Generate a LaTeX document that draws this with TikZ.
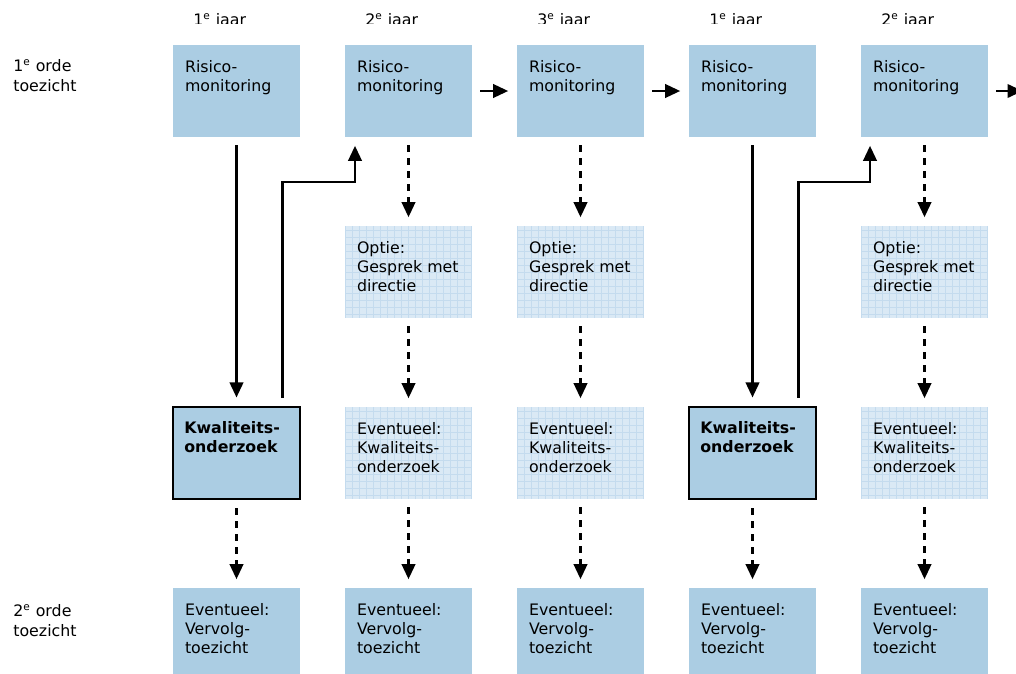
\documentclass[tikz,border=0pt]{standalone}
\usepackage{fontspec}
\setmainfont{DejaVu Sans}
\usetikzlibrary{arrows.meta}
\definecolor{boxblue}{RGB}{171,205,227}
\definecolor{optblue}{RGB}{218,233,245}
\definecolor{optgrid}{RGB}{196,219,238}
\tikzset{
  blok/.style={rectangle, fill=boxblue, minimum width=2.54cm, minimum height=1.84cm, inner sep=0pt},
  optie/.style={blok, fill=optblue, path picture={\draw[optgrid, line width=0.35pt] (path picture bounding box.south west) grid[step=0.14cm] (path picture bounding box.north east);}},
  onderzoek/.style={blok, draw=black, line width=1.2pt},
  tekst/.style={anchor=north west, align=left, inner sep=0pt, xshift=0.24cm, yshift=-0.3cm, font=\fontsize{9}{11}\selectfont},
  kop/.style={anchor=north west, align=left, inner sep=0pt, font=\fontsize{9}{11}\selectfont},
  pijl/.style={-{Triangle[length=0.3cm, width=0.27cm]}, line width=1.3pt, shorten >=0.17cm, shorten <=0.16cm},
  stip/.style={pijl, dash pattern=on 0.13cm off 0.13cm}
}
\begin{document}
\begin{tikzpicture}[x=0.02cm, y=-0.02cm]
\useasboundingbox (0,0) rectangle (1016,673);

\begin{scope}
\clip (0,0) rectangle (1016,23);
\node[kop] (j1) at (193,13) {1\textsuperscript{e} jaar};
\node[kop] (j2) at (365,13) {2\textsuperscript{e} jaar};
\node[kop] (j3) at (537,13) {3\textsuperscript{e} jaar};
\node[kop] (j4) at (709,13) {1\textsuperscript{e} jaar};
\node[kop] (j5) at (881,13) {2\textsuperscript{e} jaar};
\end{scope}

\node[kop] (o1) at (13,59) {1\textsuperscript{e} orde\\toezicht};
\node[kop] (o2) at (13,604) {2\textsuperscript{e} orde\\toezicht};

\node[blok, label={[tekst]north west:{Risico-\\monitoring}}] (r1) at (236.5,91) {};
\node[blok, label={[tekst]north west:{Risico-\\monitoring}}] (r2) at (408.5,91) {};
\node[blok, label={[tekst]north west:{Risico-\\monitoring}}] (r3) at (580.5,91) {};
\node[blok, label={[tekst]north west:{Risico-\\monitoring}}] (r4) at (752.5,91) {};
\node[blok, label={[tekst]north west:{Risico-\\monitoring}}] (r5) at (924.5,91) {};
\coordinate (uit) at (1031,91);

\node[optie, label={[tekst]north west:{Optie:\\Gesprek met\\directie}}] (g2) at (408.5,272) {};
\node[optie, label={[tekst]north west:{Optie:\\Gesprek met\\directie}}] (g3) at (580.5,272) {};
\node[optie, label={[tekst]north west:{Optie:\\Gesprek met\\directie}}] (g5) at (924.5,272) {};

\node[onderzoek, label={[tekst]north west:{\bfseries Kwaliteits-\\\bfseries onderzoek}}] (k1) at (236.5,453) {};
\node[optie, label={[tekst]north west:{Eventueel:\\Kwaliteits-\\onderzoek}}] (k2) at (408.5,453) {};
\node[optie, label={[tekst]north west:{Eventueel:\\Kwaliteits-\\onderzoek}}] (k3) at (580.5,453) {};
\node[onderzoek, label={[tekst]north west:{\bfseries Kwaliteits-\\\bfseries onderzoek}}] (k4) at (752.5,453) {};
\node[optie, label={[tekst]north west:{Eventueel:\\Kwaliteits-\\onderzoek}}] (k5) at (924.5,453) {};

\node[blok, label={[tekst]north west:{Eventueel:\\Vervolg-\\toezicht}}] (v1) at (236.5,634) {};
\node[blok, label={[tekst]north west:{Eventueel:\\Vervolg-\\toezicht}}] (v2) at (408.5,634) {};
\node[blok, label={[tekst]north west:{Eventueel:\\Vervolg-\\toezicht}}] (v3) at (580.5,634) {};
\node[blok, label={[tekst]north west:{Eventueel:\\Vervolg-\\toezicht}}] (v4) at (752.5,634) {};
\node[blok, label={[tekst]north west:{Eventueel:\\Vervolg-\\toezicht}}] (v5) at (924.5,634) {};

\coordinate (h1) at (355,182);
\coordinate (h4) at (870,182);

\path
(r2) edge[pijl] (r3)
(r3) edge[pijl] (r4)
(r5) edge[pijl] (uit)
(r1) edge[pijl] (k1)
(r4) edge[pijl] (k4)
(k1) edge[stip] (v1)
(k4) edge[stip] (v4)
(r2) edge[stip] (g2)
(g2) edge[stip] (k2)
(k2) edge[stip] (v2)
(r3) edge[stip] (g3)
(g3) edge[stip] (k3)
(k3) edge[stip] (v3)
(r5) edge[stip] (g5)
(g5) edge[stip] (k5)
(k5) edge[stip] (v5);

\draw[pijl] ([xshift=-0.37cm]k1.north east) |- (h1) -- (h1 |- r2.south);
\draw[pijl] ([xshift=-0.37cm]k4.north east) |- (h4) -- (h4 |- r5.south);
\end{tikzpicture}
\end{document}
